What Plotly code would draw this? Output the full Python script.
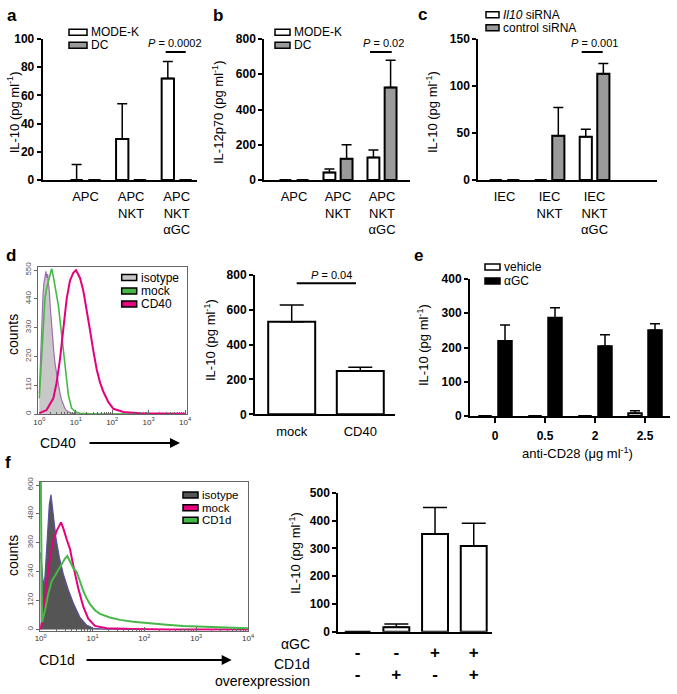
import plotly.graph_objects as go

W, H = 677, 694
FONT = "Liberation Sans, Arial, Helvetica, sans-serif"

# ---------------- data ----------------
# panel a
a_categories = ["APC", "APC<br>NKT", "APC<br>NKT<br>αGC"]
a_modek = [0, 29, 72]
a_modek_err = [11, 25, 12]
a_dc = [0, 0, 0]
a_dc_err = [0, 0, 0]
# panel b
b_categories = ["APC", "APC<br>NKT", "APC<br>NKT<br>αGC"]
b_modek = [0, 42, 127]
b_modek_err = [0, 20, 43]
b_dc = [0, 120, 525]
b_dc_err = [0, 80, 155]
# panel c
c_categories = ["IEC", "IEC<br>NKT", "IEC<br>NKT<br>αGC"]
c_il10 = [0, 0, 46]
c_il10_err = [0, 0, 8]
c_control = [0, 47, 113]
c_control_err = [0, 30, 11]
# panel d histogram (x in log10 decades, y counts)
d_iso_log = [0.0, 0.03, 0.064, 0.1, 0.128, 0.16, 0.183, 0.205, 0.229, 0.25, 0.275, 0.30, 0.339, 0.37,
             0.403, 0.44, 0.476, 0.52, 0.568, 0.61, 0.659, 0.70, 0.751, 0.82, 0.888, 1.0, 1.2, 1.5, 4.0]
d_iso_cnt = [80, 220, 350, 450, 500, 530, 545, 520, 535, 500, 470, 410, 330, 280,
             230, 185, 150, 110, 80, 55, 35, 22, 12, 6, 3, 1, 0, 0, 0]
d_mock_log = [0.0, 0.03, 0.064, 0.1, 0.156, 0.2, 0.247, 0.3, 0.339, 0.38, 0.43, 0.522, 0.614, 0.705,
              0.797, 0.888, 1.0, 1.117, 1.4, 2.0, 4.0]
d_mock_cnt = [60, 130, 213, 330, 442, 480, 506, 530, 555, 530, 493, 416, 302, 175,
              73, 22, 8, 3, 1, 0, 0]
d_cd40_log = [0.0, 0.2, 0.385, 0.476, 0.568, 0.66, 0.751, 0.842, 0.934, 1.007, 1.117, 1.209, 1.3,
              1.392, 1.484, 1.575, 1.667, 1.758, 1.896, 2.033, 2.308, 2.766, 4.0]
d_cd40_cnt = [3, 15, 60, 120, 210, 330, 440, 510, 540, 550, 520, 470, 400,
              320, 240, 170, 120, 85, 45, 20, 8, 3, 1]
# panel d bar
d_categories = ["mock", "CD40"]
d_values = [532, 248]
d_err = [96, 22]
# panel e
e_categories = ["0", "0.5", "2", "2.5"]
e_vehicle = [0, 0, 0, 8]
e_vehicle_err = [0, 0, 0, 7]
e_agc = [219, 287, 204, 250]
e_agc_err = [47, 29, 33, 19]
# panel f histogram
f_iso_log = [0.0, 0.026, 0.051, 0.083, 0.128, 0.167, 0.199, 0.244, 0.295, 0.36, 0.437, 0.533,
             0.629, 0.758, 0.886, 1.015, 1.27, 4.0]
f_iso_cnt = [320, 250, 180, 220, 380, 520, 560, 470, 380, 300, 230, 165,
             110, 50, 18, 5, 1, 0]
f_mock_log = [0.0, 0.051, 0.116, 0.18, 0.244, 0.308, 0.392, 0.437, 0.501, 0.565, 0.629, 0.726,
              0.822, 0.918, 1.047, 1.272, 1.785, 2.43, 4.0]
f_mock_cnt = [0, 60, 190, 300, 370, 410, 445, 420, 375, 335, 265, 170,
              95, 45, 15, 5, 2, 0, 0]
f_cd1d_log = [0.0, 0.026, 0.083, 0.148, 0.212, 0.276, 0.34, 0.405, 0.469, 0.514, 0.565, 0.629,
              0.694, 0.758, 0.822, 0.886, 0.951, 1.047, 1.143, 1.336, 1.529, 1.785, 2.107,
              2.428, 2.749, 3.07, 3.391, 3.712, 4.0]
f_cd1d_cnt = [700, 30, 80, 150, 200, 225, 250, 275, 295, 305, 280, 255,
              240, 200, 160, 130, 105, 80, 65, 50, 40, 32, 25,
              20, 15, 12, 9, 7, 5]
# panel f bar
f_categories = ["-<br>-", "-<br>+", "+<br>-", "+<br>+"]
f_values = [0, 16, 351, 308]
f_err = [0, 12, 96, 82]

# ---------------- helpers ----------------
def X(p):
    return p / W

def Y(p):
    return 1 - p / H

def xd(a, b):
    return [a / W, b / W]

def yd(a, b):
    return [1 - b / H, 1 - a / H]

GRAY = "#9a9a9a"
GREEN = "#47b847"
MAGENTA = "#e5007e"
PURPLE = "#9d6fb0"

fig = go.Figure()


def bar(x, y, err, xa, ya, color, width, offset=None, cap=5):
    fig.add_trace(go.Bar(
        x=x, y=y, xaxis=xa, yaxis=ya, width=width, offset=offset,
        marker=dict(color=color, line=dict(color="black", width=2)),
        error_y=dict(type="data", array=err, arrayminus=[0] * len(err), symmetric=False,
                     color="black", thickness=1.5, width=cap),
        showlegend=False))


W_BAR = 0.27
bar(a_categories, a_modek, a_modek_err, "x", "y", "white", W_BAR, -0.33)
bar(a_categories, a_dc, a_dc_err, "x", "y", GRAY, W_BAR, 0.06)
bar(b_categories, b_modek, b_modek_err, "x2", "y2", "white", W_BAR, -0.33)
bar(b_categories, b_dc, b_dc_err, "x2", "y2", GRAY, W_BAR, 0.06)
bar(c_categories, c_il10, c_il10_err, "x3", "y3", "white", W_BAR, -0.33)
bar(c_categories, c_control, c_control_err, "x3", "y3", GRAY, W_BAR, 0.06)
bar(d_categories, d_values, d_err, "x5", "y5", "white", 0.685, None, 12)
bar(e_categories, e_vehicle, e_vehicle_err, "x6", "y6", "white", W_BAR, -0.335)
bar(e_categories, e_agc, e_agc_err, "x6", "y6", "black", W_BAR, 0.065)
bar(f_categories, f_values, f_err, "x8", "y8", "white", 0.67, None, 12)


def hist(logs, cnts, xa, ya, color, fill=None, width=1.6):
    fig.add_trace(go.Scatter(
        x=[10 ** v for v in logs], y=cnts, xaxis=xa, yaxis=ya, mode="lines",
        line=dict(color=color, width=width),
        fill="tozeroy" if fill else None, fillcolor=fill, showlegend=False))


hist(d_iso_log, d_iso_cnt, "x4", "y4", PURPLE, fill="#c8c8c8", width=1.2)
hist(d_mock_log, d_mock_cnt, "x4", "y4", GREEN)
hist(d_cd40_log, d_cd40_cnt, "x4", "y4", MAGENTA, width=2)
hist(f_iso_log, f_iso_cnt, "x7", "y7", "#5b4f9e", fill="#555555", width=1.2)
hist(f_mock_log, f_mock_cnt, "x7", "y7", MAGENTA, width=2)
hist(f_cd1d_log, f_cd1d_cnt, "x7", "y7", GREEN, width=2)

# ---------------- axes ----------------
ytick_font = dict(family=FONT, size=12, color="black", weight="bold")


def bar_x(dom, rng, anchor, ticks="", tickfont=None, standoff=3):
    return dict(domain=dom, range=rng, type="category", showline=True, linecolor="black",
                linewidth=2, ticks=ticks, ticklen=5, tickwidth=2, tickcolor="black",
                showgrid=False, zeroline=False, ticklabelstandoff=standoff, automargin=False,
                anchor=anchor, tickfont=tickfont or dict(family=FONT, size=13, color="black"))


def bar_y(dom, rng, dtick, anchor):
    return dict(domain=dom, range=rng, dtick=dtick, showline=True, linecolor="black",
                linewidth=2, ticks="outside", ticklen=4, tickwidth=2, tickcolor="black",
                showgrid=False, zeroline=False, tickfont=ytick_font, anchor=anchor,
                automargin=False)


minor_vals = [m * 10 ** k for k in range(4) for m in range(2, 10)]


def hist_x(dom, rng, anchor):
    return dict(domain=dom, range=rng, type="log", showline=True, mirror=True, linecolor="#666",
                linewidth=1, ticks="inside", ticklen=4, tickcolor="#666", anchor=anchor,
                tickvals=[1, 10, 100, 1000, 10000],
                ticktext=["10<sup>0</sup>", "10<sup>1</sup>", "10<sup>2</sup>", "10<sup>3</sup>",
                          "10<sup>4</sup>"],
                tickfont=dict(family=FONT, size=8, color="#333"),
                minor=dict(tickmode="array", tickvals=minor_vals, ticks="inside", ticklen=2,
                           tickcolor="#666"),
                showgrid=False, zeroline=False, automargin=False)


def hist_y(dom, rng, vals, anchor):
    return dict(domain=dom, range=rng, tickvals=vals, tickangle=-90, showline=True, mirror=True,
                linecolor="#666", linewidth=1, ticks="outside", ticklen=3, tickcolor="#666",
                tickfont=dict(family=FONT, size=8, color="#555"), showgrid=False,
                zeroline=False, anchor=anchor, automargin=False)


fig.update_layout(
    xaxis=bar_x(xd(42.7, 197), [-0.939, 2.445], "y"),
    yaxis=bar_y(yd(39, 180), [0, 100], 20, "x"),
    xaxis2=bar_x(xd(264.3, 410), [-0.675, 2.636], "y2"),
    yaxis2=bar_y(yd(39, 180), [0, 800], 200, "x2"),
    xaxis3=bar_x(xd(478.3, 656.7), [-0.582, 3.38], "y3"),
    yaxis3=bar_y(yd(39, 180), [0, 150], 50, "x3"),
    xaxis4=hist_x(xd(38.3, 186.7), [-0.027, 4.044], "y4"),
    yaxis4=hist_y(yd(266.7, 414), [0, 563], [0, 110, 220, 330, 440, 550], "x4"),
    xaxis5=bar_x(xd(255, 395), [-0.535, 1.506], "y5", standoff=4),
    yaxis5=bar_y(yd(275, 414.3), [0, 800], 200, "x5"),
    xaxis6=bar_x(xd(470, 670), [-0.5, 3.5], "y6", ticks="outside", standoff=3,
                 tickfont=dict(family=FONT, size=12, color="black", weight="bold")),
    yaxis6=bar_y(yd(279, 416), [0, 400], 100, "x6"),
    xaxis7=hist_x(xd(40, 248.3), [-0.013, 4.005], "y7"),
    yaxis7=hist_y(yd(481.7, 630.7), [-5, 614], [0, 120, 240, 360, 480, 600], "x7"),
    xaxis8=bar_x(xd(338.3, 492.3), [-0.5, 3.48], "y8", standoff=4,
                 tickfont=dict(family=FONT, size=17, color="black", weight="bold")),
    yaxis8=bar_y(yd(492.7, 631.7), [0, 500], 100, "x8"),
)

# ---------------- annotations ----------------
ann = []


def text(x, y, s, size=13, anchor="center", angle=0, bold=False, color="black", yanchor="middle"):
    ann.append(dict(x=X(x), y=Y(y), xref="paper", yref="paper", text=s, showarrow=False,
                    xanchor=anchor, yanchor=yanchor, textangle=angle,
                    font=dict(family=FONT, size=size, color=color,
                              weight="bold" if bold else "normal")))


# panel letters
for lab, x, y in [("a", 12, 15), ("b", 218, 15), ("c", 422, 14), ("d", 11, 255), ("e", 418, 255),
                  ("f", 8, 462)]:
    text(x, y, lab, size=17, bold=True)

# y titles
IL10 = "IL-10 (pg ml<sup>-1</sup>)"
text(13.3, 112, IL10, angle=-90)
text(218, 112, "IL-12p70 (pg ml<sup>-1</sup>)", angle=-90)
text(432, 112, IL10, angle=-90)
text(13, 335, "counts", angle=-90, size=14)
text(210, 340, IL10, angle=-90)
text(423, 345, IL10, angle=-90)
text(13, 556, "counts", angle=-90, size=14)
text(295, 553, IL10, angle=-90)

# P values
shapes = []


def pline(x0, x1, y):
    shapes.append(dict(type="line", xref="paper", yref="paper", x0=X(x0), x1=X(x1), y0=Y(y), y1=Y(y),
                       line=dict(color="black", width=2)))


text(175, 43, "<i>P</i> = 0.0002", size=11)
pline(165.7, 185.7, 52)
text(383.7, 43, "<i>P</i> = 0.02", size=11)
pline(370, 391.7, 52)
text(594, 43, "<i>P</i> = 0.001", size=11)
pline(581.7, 602.7, 52)
text(331.5, 275, "<i>P</i> = 0.04", size=11)
pline(296.7, 356, 283.3)


# legends
def legend(x0, y_centers, labels, fills, size=12, bw=15, bh=6):
    for yc, lab, fc in zip(y_centers, labels, fills):
        shapes.append(dict(type="rect", xref="paper", yref="paper", x0=X(x0), x1=X(x0 + bw),
                           y0=Y(yc + bh / 2), y1=Y(yc - bh / 2), fillcolor=fc,
                           line=dict(color="black", width=1.5)))
        text(x0 + bw + 2, yc, lab, size=size, anchor="left")


legend(69, [32.3, 45.2], ["MODE-K", "DC"], ["white", GRAY], bw=18)
legend(275, [32.3, 45.2], ["MODE-K", "DC"], ["white", GRAY], bw=15)
legend(486, [14.8, 27.8], ["<i>Il10</i> siRNA", "control siRNA"], ["white", GRAY], bw=13)
legend(121.7, [277.5, 291, 304], ["isotype", "mock", "CD40"], ["#c8c8c8", GREEN, MAGENTA])
legend(485, [267, 281], ["vehicle", "αGC"], ["white", "black"])
legend(183, [495, 507.7, 520.3], ["isotype", "mock", "CD1d"], ["#555555", MAGENTA, GREEN],
       size=11.5)

# e x title
text(577, 453, "anti-CD28 (μg ml<sup>-1</sup>)", size=13)

# histogram x titles with arrows
text(38, 443, "CD40", size=14, anchor="left")
text(37, 660, "CD1d", size=14, anchor="left")
for tip, tail, y in [(180, 88, 443), (231.7, 85, 660)]:
    ann.append(dict(x=X(tip), y=Y(y), xref="paper", yref="paper", text="", showarrow=True,
                    ax=-(tip - tail), ay=0, arrowhead=2, arrowsize=1, arrowwidth=2,
                    arrowcolor="black"))

# f row labels
text(312, 644, "αGC", size=14, anchor="right")
text(312, 664, "CD1d", size=14, anchor="right")
text(312, 681, "overexpression", size=14, anchor="right")

fig.update_layout(
    width=W, height=H, margin=dict(l=0, r=0, t=0, b=0, pad=0), autosize=False,
    paper_bgcolor="white", plot_bgcolor="white", showlegend=False,
    barmode="group", annotations=ann, shapes=shapes,
    font=dict(family=FONT, color="black"),
)

fig.write_html(
    "out.html",
    config={"responsive": False, "displayModeBar": False},
    post_script="document.body.style.margin='0px';document.body.style.overflow='hidden';",
)
